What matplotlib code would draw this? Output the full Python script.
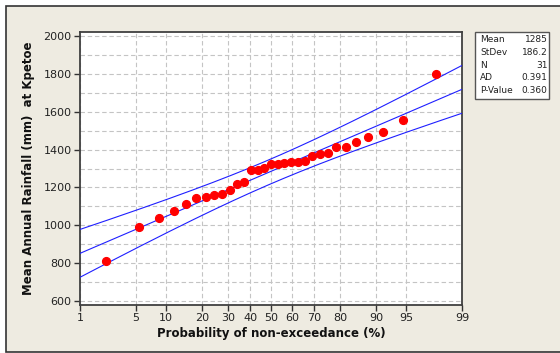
import numpy as np
import matplotlib
matplotlib.use("Agg")
import matplotlib.pyplot as plt
from matplotlib.patches import Rectangle
from statistics import NormalDist
import math

# Data (sorted annual rainfall, mm)
rainfall = [809, 991, 1037, 1075, 1110, 1143, 1148, 1162, 1167, 1185, 1219, 1229,
            1290, 1290, 1304, 1323, 1323, 1330, 1333, 1333, 1338, 1367, 1377, 1382,
            1414, 1415, 1438, 1468, 1491, 1555, 1799]
stat_names = ["Mean", "StDev", "N", "AD", "P-Value"]
stat_values = ["1285", "186.2", "31", "0.391", "0.360"]
mean_val = 1285
sd_val = 186.2
n_val = 31
x_ticks = [1, 5, 10, 20, 30, 40, 50, 60, 70, 80, 90, 95, 99]
y_ticks = [600, 800, 1000, 1200, 1400, 1600, 1800, 2000]

nd = NormalDist()
_inv = np.vectorize(lambda p: nd.inv_cdf(p))
_cdf = np.vectorize(lambda z: 0.5 * (1 + math.erf(z / math.sqrt(2))))

def fwd(p):
    p = np.asarray(p, dtype=float)
    pc = np.clip(p / 100.0, 1e-9, 1 - 1e-9)
    return _inv(pc) if pc.size else pc

def inv(z):
    z = np.asarray(z, dtype=float)
    return _cdf(z) * 100.0 if z.size else z

fig = plt.figure(figsize=(5.6, 3.53), dpi=100)
fig.patch.set_facecolor("white")
bg = Rectangle((6 / 560, 1.5 / 353), 1.0, (353 - 7.5) / 353, transform=fig.transFigure,
               facecolor="#EEEBE1", edgecolor="#333333", linewidth=1.2, zorder=-10)
fig.patches.append(bg)

ax = fig.add_axes([80 / 560, 1 - 305 / 353, (462 - 80) / 560, (305 - 32) / 353])
ax.set_facecolor("white")
ax.set_xscale("function", functions=(fwd, inv))
ax.set_xlim(1, 99)
ax.set_ylim(579, 2021)

# plotting positions (median ranks, as in Minitab)
n = len(rainfall)
ranks = np.arange(1, n + 1)
probs = (ranks - 0.3) / (n + 0.4) * 100

# fitted line and 95% CI
pp = np.linspace(0.5, 99.5, 400)
zz = fwd(pp)
fit = mean_val + zz * sd_val
se = sd_val * np.sqrt(1 / n_val + zz ** 2 / (2 * n_val))
ax.plot(pp, fit, color="#1F1FFF", lw=0.8, zorder=3)
ax.plot(pp, fit + 1.96 * se, color="#1F1FFF", lw=0.8, zorder=3)
ax.plot(pp, fit - 1.96 * se, color="#1F1FFF", lw=0.8, zorder=3)

ax.plot(probs, rainfall, "o", color="#FF0000", ms=5.6, mec="#FF0000", zorder=4)

# grid
ax.set_xticks(x_ticks)
ax.set_xticklabels([str(t) for t in x_ticks])
ax.set_yticks(y_ticks)
ax.set_yticks(np.arange(700, 2000, 200), minor=True)
ax.xaxis.set_minor_locator(matplotlib.ticker.NullLocator())
ax.grid(True, which="both", color="#C4C4C4", linestyle=(0, (4, 2.5)), lw=0.8)
ax.tick_params(axis="y", which="minor", length=0)
ax.tick_params(axis="both", which="major", labelsize=8, length=4, width=1,
               color="#333333", labelcolor="#222222", pad=2)
for s in ax.spines.values():
    s.set_color("#404040")
    s.set_linewidth(1.3)

ax.set_xlabel("Probability of non-exceedance (%)", fontsize=8.5, fontweight="bold",
              labelpad=3, color="#111111")
ax.set_ylabel("Mean Annual Rainfall (mm)  at Kpetoe", fontsize=8.5, fontweight="bold",
              labelpad=6, color="#111111")

# stats box
bx0, by0, bx1, by1 = 475 / 560, 1 - 99 / 353, 549 / 560, 1 - 32 / 353
box = Rectangle((bx0, by0), bx1 - bx0, by1 - by0, transform=fig.transFigure,
                facecolor="white", edgecolor="#555555", linewidth=1.0, zorder=5)
fig.patches.append(box)
for i, (nm, vv) in enumerate(zip(stat_names, stat_values)):
    yy = 1 - (40 + i * 12.6) / 353
    fig.text(480 / 560, yy, nm, fontsize=6.5, va="center", ha="left", color="#222222", zorder=6)
    fig.text(547.5 / 560, yy, vv, fontsize=6.5, va="center", ha="right", color="#222222", zorder=6)

fig.savefig("out.png", dpi=100, facecolor=fig.get_facecolor())
